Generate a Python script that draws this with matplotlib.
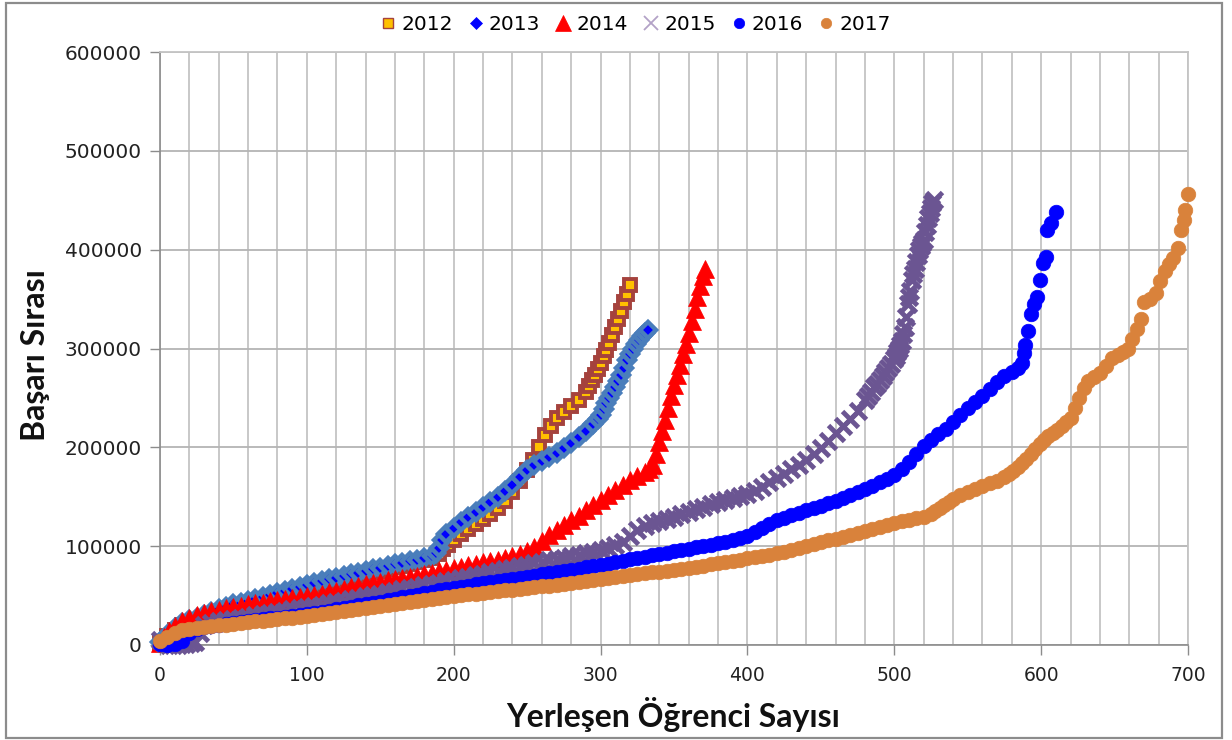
import matplotlib
matplotlib.use("Agg")
import matplotlib.pyplot as plt
from matplotlib.lines import Line2D
from matplotlib.patches import Rectangle
from matplotlib.ticker import MultipleLocator

# ---------------- data (rank count, success rank) ----------------
years = ["2012", "2013", "2014", "2015", "2016", "2017"]

s2012 = [(0,2000),(5,9000),(10,15000),(15,20000),(20,23000),(25,25500),(30,28000),(35,30500),(40,33000),(45,35500),
         (50,38000),(55,40300),(60,42500),(65,44500),(70,46500),(75,48500),(80,50500),(85,52500),(90,54500),(95,56300),
         (100,58000),(105,59800),(110,61500),(115,63300),(120,65000),(125,66800),(130,68500),(135,70300),(140,72000),(145,73500),
         (150,75000),(155,76800),(160,78500),(165,80300),(170,82000),(175,83800),(180,85500),(185,88000),
         (190,92000),(193,97000),(196,101000),(200,106000),(205,112000),(210,117000),(215,122000),(220,127000),(225,133000),
         (230,139000),(235,146000),(240,155000),(245,166000),(250,177000),(254,187000),(258,200000),(262,212000),(266,222000),
         (270,230000),(275,236000),(280,242000),(285,248000),(290,256000),(292,262000),(294,268000),(296,273000),(298,279000),
         (300,285000),(302,292000),(304,298000),(306,306000),(308,314000),(310,322000),(312,330000),(314,338000),(316,347000),
         (318,355000),(320,364000)]

s2013 = [(0,3000),(5,10000),(10,17000),(15,22000),(20,25000),(25,27500),(30,30000),(35,33000),(40,36000),(45,38500),
         (50,41000),(55,43000),(60,45000),(65,47000),(70,49000),(75,51000),(80,53000),(85,55000),(90,57000),(95,59000),
         (100,61000),(105,62800),(110,64500),(115,66300),(120,68000),(125,69800),(130,71500),(135,73300),(140,75000),(145,76500),
         (150,78000),(155,79800),(160,81500),(165,83300),(170,85000),(175,86500),(180,88000),(185,90000),
         (188,93000),(190,98000),(192,106000),(195,112000),(200,118000),(205,124000),(210,130000),(215,135000),(220,140000),
         (225,145000),(230,150000),(235,156000),(240,162000),(245,170000),(250,177000),(255,182000),(260,186000),(265,190000),
         (270,194000),(275,199000),(280,204000),(285,210000),(290,217000),(295,224000),(298,229000),(300,233000),(302,239000),
         (304,245000),(306,250000),(308,255000),(310,261000),(312,267000),(314,273000),(316,280000),(318,288000),(320,294000),
         (322,300000),(324,305000),(326,309000),(328,313000),(330,316000),(332,319000)]

s2014 = [(0,2000),(3,8000),(6,14000),(10,19000),(15,24000),(20,27500),(25,30000),(30,32000),(35,34000),(40,35500),
         (45,37000),(50,38500),(55,39800),(60,41000),(65,42000),(70,43000),(75,44200),(80,45300),(85,46300),(90,47300),
         (95,48200),(100,49200),(105,50600),(110,52000),(115,53500),(120,55000),(125,56600),(130,58200),(135,59800),(140,61400),
         (145,62700),(150,64000),(155,65300),(160,66500),(165,67700),(170,69000),(175,70300),(180,71600),(185,73000),(190,74500),
         (195,76000),(200,77500),(205,79000),(210,80500),(215,82000),(220,83500),(225,85000),(230,86500),(235,88500),(240,90500),
         (245,92500),(250,95000),(255,99000),(260,105000),(265,111000),(270,116000),(275,121000),(280,126000),(285,131000),
         (290,137000),(295,142000),(300,147000),(305,152000),(310,157000),(315,162000),(320,167000),(325,171000),(330,175000),
         (333,178000),(336,182000),(338,193000),(340,205000),(342,217000),(344,228000),(346,240000),(348,252000),(350,263000),
         (352,273000),(354,283000),(356,294000),(358,305000),(360,316000),(362,328000),(364,340000),(366,352000),(368,363000),
         (370,373000),(371,380000)]

s2015 = [(0,5000),(3,2500),(6,500),(9,200),(12,500),(15,1000),(18,1500),(21,2000),(24,3500),(27,12000),
         (30,20000),(35,22500),(40,24000),(45,25200),(50,26400),(55,27600),(60,28800),(65,30000),(70,31200),(75,32400),
         (80,33600),(85,34800),(90,36000),(95,37000),(100,38000),(105,39400),(110,40800),(115,42200),(120,43600),(125,45000),
         (130,46400),(135,47800),(140,49200),(145,50600),(150,52000),(155,53400),(160,54800),(165,56200),(170,57600),(175,59000),
         (180,60400),(185,61800),(190,63200),(195,64600),(200,66000),(205,67500),(210,69000),(215,70500),(220,72000),(225,73500),
         (230,75000),(235,76500),(240,78000),(245,79500),(250,81000),(255,82500),(260,84000),(265,85500),(270,87000),(275,88500),
         (280,90000),(285,91500),(290,93000),(295,94500),(300,96000),(305,98500),(310,101000),(315,104000),(320,110000),
         (325,116000),(330,120000),(335,123000),(340,125000),(345,127500),(350,130000),(355,132500),(360,135000),(365,137500),
         (370,140000),(375,142500),(380,145000),(385,147000),(390,149000),(395,151000),(400,153000),(405,156000),(410,160000),
         (415,164500),(420,169000),(425,173500),(430,178000),(435,182500),(440,187000),(445,193000),(450,199000),(455,206000),
         (460,214000),(465,222000),(470,229000),(475,237000),(480,248000),(482,252000),(484,256000),(486,261000),(488,264000),
         (490,268000),(492,272000),(494,276000),(496,280000),(498,284000),(500,289000),(501,292000),(502,296000),(503,300000),
         (504,304000),(505,308000),(506,315000),(507,322000),(508,332000),(509,345000),(510,352000),(511,358000),(512,369000),
         (513,375000),(514,380000),(515,388000),(516,395000),(517,400000),(518,404000),(519,407000),(520,410000),(521,418000),
         (522,425000),(523,432000),(524,437000),(525,442000),(526,447000),(527,450000)]

s2016 = [(0,1000),(5,500),(10,1500),(15,4000),(20,12000),(25,16500),(30,18500),(35,19500),(40,20500),(45,21500),
         (50,22500),(55,23400),(60,24300),(65,25200),(70,26100),(75,27000),(80,27800),(85,28600),(90,29400),(95,30200),
         (100,31000),(105,32300),(110,33600),(115,34900),(120,36200),(125,37500),(130,38800),(135,40100),(140,41400),(145,42700),
         (150,44000),(155,45400),(160,46800),(165,48200),(170,49600),(175,51000),(180,52400),(185,53800),(190,55200),(195,56600),
         (200,58000),(205,59100),(210,60200),(215,61300),(220,62400),(225,63500),(230,64600),(235,65700),(240,66800),(245,67900),
         (250,69000),(255,70200),(260,71400),(265,72600),(270,73800),(275,75000),(280,76200),(285,77400),(290,78600),(295,79800),
         (300,81000),(305,82400),(310,83800),(315,85200),(320,86600),(325,88000),(330,89400),(335,90800),(340,92200),(345,93500),
         (350,94800),(355,96100),(360,97400),(365,98800),(370,100200),(375,101600),(380,103000),(385,104600),(390,106300),
         (395,108200),(400,110500),(405,114000),(410,118000),(415,122000),(420,126000),(425,128800),(430,131500),(435,134000),
         (440,136500),(445,138800),(450,141000),(455,143200),(460,145500),(465,148500),(470,151500),(475,154500),(480,157500),
         (485,161000),(490,164500),(495,168000),(500,172000),(505,178000),(510,185000),(515,193000),(520,201000),(525,207000),
         (530,213000),(535,219000),(540,226000),(545,233000),(550,240000),(555,246000),(560,252000),(565,259000),(570,266000),
         (575,272000),(580,276000),(584,280000),(587,285000),(588,295000),(589,304000),(591,318000),(593,335000),(595,345000),
         (597,352000),(599,369000),(601,387000),(603,393000),(604,420000),(607,427000),(610,438000)]

s2017 = [(0,4000),(5,8000),(10,12500),(15,15000),(20,16500),(25,17500),(30,18300),(35,19000),(40,19800),(45,20600),
         (50,21400),(55,22200),(60,23000),(65,23800),(70,24600),(75,25400),(80,26200),(85,27000),(90,27800),(95,28600),
         (100,29400),(105,30400),(110,31400),(115,32400),(120,33400),(125,34400),(130,35400),(135,36400),(140,37400),(145,38400),
         (150,39400),(155,40400),(160,41400),(165,42400),(170,43400),(175,44400),(180,45400),(185,46400),(190,47400),(195,48400),
         (200,49400),(205,50300),(210,51200),(215,52000),(220,52800),(225,53600),(230,54400),(235,55200),(240,56000),(245,56800),
         (250,57600),(255,58400),(260,59200),(265,60000),(270,60900),(275,61800),(280,62700),(285,63600),(290,64500),(295,65500),
         (300,66500),(305,67500),(310,68500),(315,69500),(320,70500),(325,71500),(330,72500),(335,73400),(340,74300),(345,75200),
         (350,76100),(355,77000),(360,78000),(365,79200),(370,80400),(375,81600),(380,82800),(385,84000),(390,85200),(395,86400),
         (400,87800),(405,89000),(410,90200),(415,91400),(420,92800),(425,94500),(430,96500),(435,98500),(440,100500),
         (445,102000),(450,104000),(455,105800),(460,107600),(465,109500),(470,111500),(475,113500),(480,115500),(485,117500),
         (490,119500),(495,121500),(500,123500),(505,125000),(510,126500),(515,128000),(520,130000),(525,133000),(528,136000),
         (531,139000),(534,142000),(537,145000),(540,148000),(545,152000),(550,155000),(555,158000),(560,161000),(565,163500),
         (570,166000),(575,170000),(578,173000),(581,176000),(584,180000),(587,184000),(590,188000),(593,193000),(596,198000),
         (599,203000),(602,207000),(605,211000),(608,215000),(611,218000),(614,222000),(617,226000),(620,230000),
         (623,240000),(626,250000),(629,260000),(632,267000),(636,271000),(640,275000),(644,282000),(648,290000),(652,293000),
         (656,296000),(659,299000),(662,310000),(665,320000),(668,330000),(670,347000),(674,350000),(678,356000),(681,368000),
         (684,378000),(687,385000),(690,392000),(693,402000),(695,420000),(697,430000),(698,440000),(700,456000)]

series = [s2012, s2013, s2014, s2015, s2016, s2017]

x_ticks = [0, 100, 200, 300, 400, 500, 600, 700]
y_ticks = [0, 100000, 200000, 300000, 400000, 500000, 600000]
x_label = "Yerleşen Öğrenci Sayısı"
y_label = "Başarı Sırası"

# ---------------- styles ----------------
plot_styles = [
    dict(marker='s', ms=9, mfc='#FFC000', mec='#A5423D', mew=2.8),
    dict(marker='D', ms=8, mfc='#0000FF', mec='#4A7EBB', mew=3.2),
    dict(marker='^', ms=13.5, mfc='#FF0000', mec='#FF0000', mew=0.5),
    dict(marker='x', ms=11, mfc='#6B5592', mec='#6B5592', mew=3.5),
    dict(marker='o', ms=10.5, mfc='#0000FF', mec='#0000FF', mew=0.5),
    dict(marker='o', ms=10.5, mfc='#D9823B', mec='#D9823B', mew=0.5),
]
legend_styles = [
    dict(marker='s', ms=7, mfc='#FFC000', mec='#A5423D', mew=1.0),
    dict(marker='D', ms=6, mfc='#0000FF', mec='#0000FF', mew=0.5),
    dict(marker='^', ms=11, mfc='#FF0000', mec='#FF0000', mew=0.5),
    dict(marker='x', ms=10, mfc='#B3A2C7', mec='#B3A2C7', mew=1.3),
    dict(marker='o', ms=7.5, mfc='#0000FF', mec='#0000FF', mew=0.5),
    dict(marker='o', ms=7.5, mfc='#D9823B', mec='#D9823B', mew=0.5),
]

W, H = 1232, 740
fig = plt.figure(figsize=(W / 100, H / 100), dpi=100)
fig.patch.set_facecolor('white')

# outer chart border
fig.add_artist(Rectangle((6 / W, 2 / H), (1222 - 6) / W, (737 - 2) / H,
                         transform=fig.transFigure, fill=False,
                         edgecolor='#8C8C8C', lw=1.6))

ax = fig.add_axes([160 / W, 1 - 645 / H, (1188 - 160) / W, (645 - 52) / H])
ax.set_xlim(0, 700)
ax.set_ylim(0, 600000)

ax.set_xticks(x_ticks)
ax.set_yticks(y_ticks)
ax.set_xticklabels([str(v) for v in x_ticks])
ax.set_yticklabels([str(v) for v in y_ticks])
ax.xaxis.set_minor_locator(MultipleLocator(20))
ax.tick_params(axis='both', which='major', direction='out', length=7,
               width=1.0, color='#8C8C8C', labelcolor='#222222')
ax.tick_params(axis='x', which='major', pad=8, labelsize=13.5)
ax.tick_params(axis='y', which='major', pad=6, labelsize=14.5)
ax.tick_params(axis='x', which='minor', length=0)
for lab in ax.get_xticklabels() + ax.get_yticklabels():
    lab.set_family('DejaVu Sans')

ax.grid(True, axis='x', which='both', color='#C4C4C4', lw=1.3)
ax.grid(True, axis='y', which='major', color='#B4B4B4', lw=1.3)
ax.set_axisbelow(True)
for side in ['top', 'right']:
    ax.spines[side].set_color('#C4C4C4')
    ax.spines[side].set_linewidth(1.3)
for side in ['left', 'bottom']:
    ax.spines[side].set_color('#8C8C8C')
    ax.spines[side].set_linewidth(1.2)

for i, (data, st) in enumerate(zip(series, plot_styles)):
    xs = [p[0] for p in data]
    ys = [p[1] for p in data]
    ax.plot(xs, ys, linestyle='none', clip_on=False, zorder=3 + i, **st)

ax.set_xlabel(x_label, fontsize=23, fontweight='bold', family='Lato',
              color='#111111', labelpad=4)
ax.set_ylabel(y_label, fontsize=23, fontweight='bold', family='Lato',
              color='#111111', labelpad=8)
ax.xaxis.set_label_coords((673 - 160) / (1188 - 160), -(715 - 645) / (645 - 52))
ax.yaxis.set_label_coords(-(160 - 36) / (1188 - 160), (645 - 355) / (645 - 52))
ax.xaxis.label.set_va('center')
ax.yaxis.label.set_va('center')

handles = [Line2D([], [], linestyle='none', **st) for st in legend_styles]
fig.legend(handles, years, loc='center', bbox_to_anchor=(634 / W, 1 - 25 / H),
           ncol=6, frameon=False, prop={'family': 'DejaVu Sans', 'size': 14.5},
           handletextpad=0.1, columnspacing=0.6, handlelength=1.1,
           borderaxespad=0)

fig.savefig('out.png', dpi=100, facecolor='white')
